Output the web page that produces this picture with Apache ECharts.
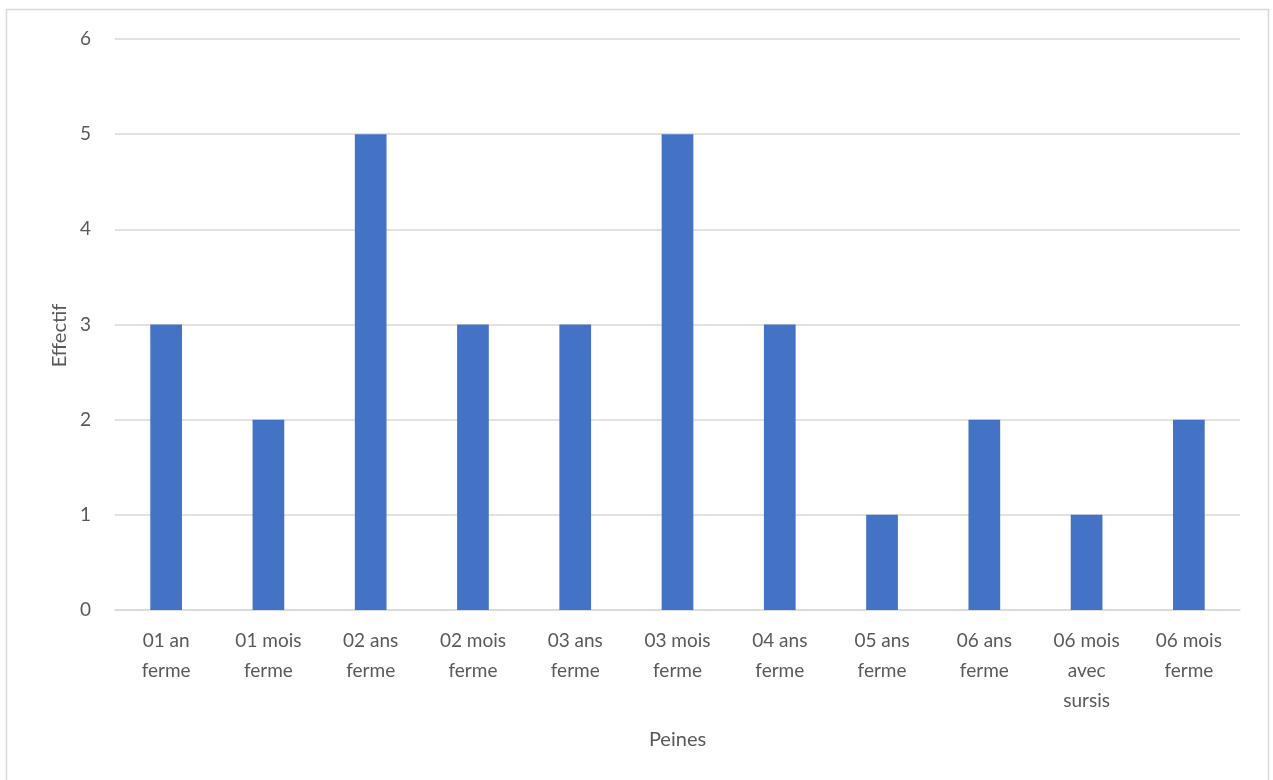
<!DOCTYPE html>
<html><head><meta charset="utf-8">
<script src="https://cdn.jsdelivr.net/npm/echarts@6/dist/echarts.min.js"></script>
<style>html,body{margin:0;padding:0;background:#fff}#c{width:1273px;height:780px}</style>
</head><body><div id="c"></div>
<script>
const categories = ["01 an\nferme","01 mois\nferme","02 ans\nferme","02 mois\nferme","03 ans\nferme","03 mois\nferme","04 ans\nferme","05 ans\nferme","06 ans\nferme","06 mois\navec\nsursis","06 mois\nferme"];
const values = [3,2,5,3,3,5,3,1,2,1,2];
const chart = echarts.init(document.getElementById('c'));
const font = 'Lato, "Open Sans", sans-serif';
chart.setOption({
  animation:false,
  graphic:[{type:'rect',shape:{x:6.5,y:9.5,width:1262,height:800},style:{fill:'none',stroke:'#d9d9d9',lineWidth:1.5}}],
  grid:{left:115,right:33,top:39,bottom:170},
  xAxis:{type:'category',data:categories,
    axisLine:{lineStyle:{color:'#d9d9d9',width:1.5}},axisTick:{show:false},
    axisLabel:{color:'#595959',fontSize:19,fontFamily:font,lineHeight:30,margin:16,interval:0},
    name:'Peines',nameLocation:'middle',nameGap:120,nameTextStyle:{color:'#595959',fontSize:20,fontFamily:font}},
  yAxis:{type:'value',min:0,max:6,interval:1,
    axisLine:{show:false},axisTick:{show:false},
    splitLine:{lineStyle:{color:'#d9d9d9',width:1.5}},
    axisLabel:{color:'#595959',fontSize:19,fontFamily:font,margin:24},
    name:'Effectif',nameLocation:'middle',nameGap:44,nameTextStyle:{color:'#595959',fontSize:20,fontFamily:font,padding:[0,22,0,0]}},
  series:[{type:'bar',data:values,barWidth:'31%',itemStyle:{color:'#4472c4'}}]
});
</script></body></html>
